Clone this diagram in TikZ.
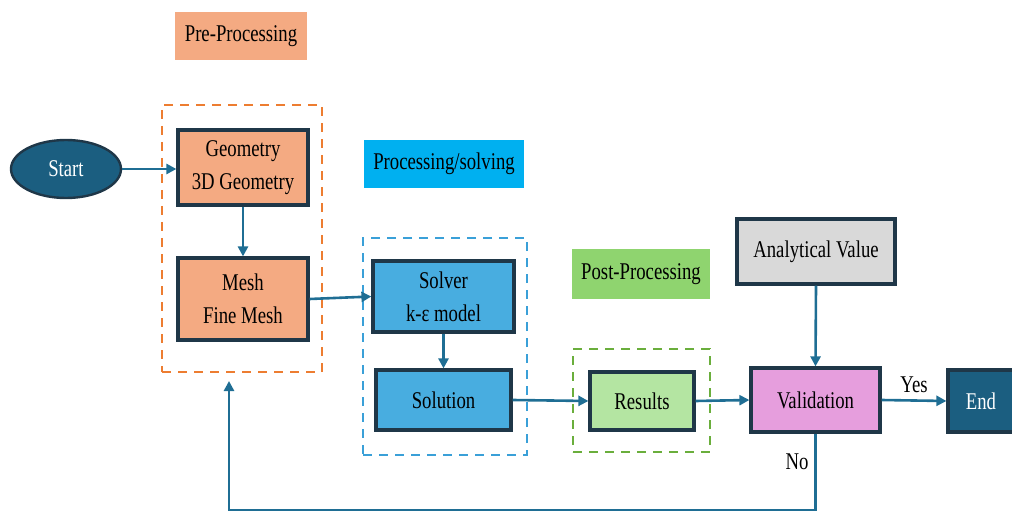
\documentclass[tikz,border=0pt]{standalone}
\usepackage{fontspec}
\setmainfont{Liberation Serif}[FakeStretch=0.78]
\usetikzlibrary{arrows.meta,shapes.geometric}

\definecolor{salmon}{RGB}{244,170,130}
\definecolor{preorange}{RGB}{237,125,49}
\definecolor{cyanlabel}{RGB}{0,176,240}
\definecolor{procblue}{RGB}{58,160,216}
\definecolor{boxblue}{RGB}{72,173,224}
\definecolor{greenlabel}{RGB}{143,212,111}
\definecolor{postgreen}{RGB}{106,174,60}
\definecolor{lightgreen}{RGB}{180,229,162}
\definecolor{pinkbox}{RGB}{230,158,221}
\definecolor{greybox}{RGB}{217,217,217}
\definecolor{darkteal}{RGB}{27,94,128}
\definecolor{boxedge}{RGB}{31,55,72}
\definecolor{flowline}{RGB}{31,110,148}

\tikzset{
  txt/.style={font=\fontsize{24}{33}\selectfont, align=center, inner sep=0pt},
  stage/.style={txt, draw=boxedge, line width=3.2pt, rectangle},
  phase/.style={txt, rectangle, draw=none},
  group/.style={rectangle, line width=2.8pt, dash pattern=on 9pt off 7pt, inner sep=0pt},
  flow/.style={draw=flowline, line width=2.6pt, -{Triangle[length=10pt,width=10pt]}}
}

\begin{document}
\begin{tikzpicture}[x=1pt,y=-1pt]
\useasboundingbox (0,0) rectangle (1012,513);

% phase labels
\node[phase, fill=salmon, minimum width=132pt, minimum height=48pt] (prelab) at (241,36) {Pre-Processing};
\node[phase, fill=cyanlabel, minimum width=160pt, minimum height=48pt] (proclab) at (444,164) {Processing/solving};
\node[phase, fill=greenlabel, minimum width=138pt, minimum height=50pt] (postlab) at (641,274) {Post-Processing};

% dashed groups
\node[group, draw=preorange, minimum width=160pt, minimum height=267pt] (pregroup) at (242,238.5) {};
\node[group, draw=procblue, minimum width=164pt, minimum height=217pt] (procgroup) at (445,346.5) {};
\node[group, draw=postgreen, minimum width=137pt, minimum height=103pt] (postgroup) at (641.5,400.5) {};

% start
\node[ellipse, draw=boxedge, line width=2.4pt, fill=darkteal, text=white, txt,
      minimum width=110pt, minimum height=58pt] (start) at (66,169) {Start};

% pre-processing
\node[stage, fill=salmon, minimum width=130pt, minimum height=75pt] (geo) at (243,167.5) {Geometry\\3D Geometry};
\node[stage, fill=salmon, minimum width=130pt, minimum height=82pt] (mesh) at (243,299) {Mesh\\Fine Mesh};

% processing
\node[stage, fill=boxblue, minimum width=141pt, minimum height=71pt] (solver) at (443.5,296.5) {Solver\\k-ε model};
\node[stage, fill=boxblue, minimum width=135pt, minimum height=60pt] (solution) at (443.5,400) {Solution};

% post-processing
\node[stage, fill=lightgreen, minimum width=104pt, minimum height=58pt] (results) at (642,401) {Results};

% validation
\node[stage, fill=greybox, minimum width=158pt, minimum height=65pt] (analytic) at (816,251.5) {Analytical Value};
\node[stage, fill=pinkbox, minimum width=129pt, minimum height=64pt] (valid) at (815.5,400) {Validation};
\node[stage, fill=darkteal, text=white, minimum width=66pt, minimum height=62pt] (finish) at (981,401) {End};

% connectors
\draw[flow] (start.east) -- (geo.west |- start.east);
\draw[flow] (geo.south) -- (mesh.north);
\draw[flow] (mesh.east) -- (solver.west);
\draw[flow] (solver.south) -- (solution.north);
\draw[flow] (solution.east) -- (results.west);
\draw[flow] (results.east) -- (valid.west);
\draw[flow] (analytic.south) -- (valid.north);
\draw[flow] (valid.east) -- node[txt, above=6pt] (yes) {Yes} (finish.west);

% feedback loop
\coordinate (loopcorner) at (229,510);
\coordinate (loopend) at (229,381);
\draw[flow] (valid.south) -- (valid.south |- loopcorner) -- (loopcorner) -- (loopend);
\node[txt] (no) at (797,462) {No};

\end{tikzpicture}
\end{document}
